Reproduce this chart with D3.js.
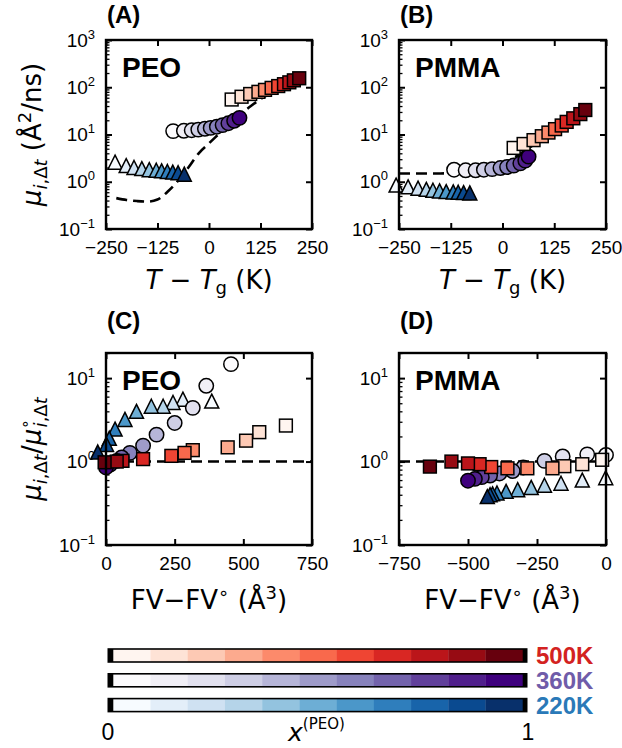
<!DOCTYPE html>
<html>
<head>
<meta charset="utf-8">
<script src="https://cdn.jsdelivr.net/npm/d3@7"></script>
<style>
  body { margin: 0; background: #fff; }
  text { font-family: "Liberation Sans", Arial, Helvetica, sans-serif; }
  .math { font-family: "DejaVu Sans", sans-serif; }
</style>
</head>
<body>
<svg id="fig" width="622" height="748"></svg>
<script>
'use strict';

/* ── Data ─────────────────────────────────────────────── */
const xPEO = [0, 0.1, 0.2, 0.3, 0.4, 0.5, 0.6, 0.7, 0.8, 0.9, 1.0];

// (A) PEO : mobility vs T - Tg
const peoT220  = [-228, -201, -182, -163, -145, -128, -115, -101, -88, -75, -60];
const peoMu220 = [2.6, 2.2, 2.0, 1.9, 1.8, 1.75, 1.7, 1.65, 1.6, 1.55, 1.45];
const peoT360  = [-87, -61, -42, -26, -10, 4, 19, 33, 47, 61, 74];
const peoMu360 = [11.8, 12, 12.3, 12.7, 13.2, 13.8, 14.6, 15.8, 17.3, 19.5, 22.5];
const peoT500  = [55, 79, 100, 120, 136, 152, 168, 182, 195, 206, 219];
const peoMu500 = [55, 63, 72, 80, 88, 97, 106, 116, 127, 140, 155];
const peoRefT  = [-225, -200, -175, -150, -125, -100, -75, -50, -25, 0, 25, 50, 75, 100, 125, 150, 175, 200, 225];
const peoRefMu = [0.45, 0.41, 0.39, 0.38, 0.42, 0.62, 1.05, 2.0, 4.0, 6.5, 10.5, 17, 26, 39, 56, 75, 93, 115, 144];

// (B) PMMA : mobility vs T - Tg
const pmmaT220  = [-257, -228, -204, -184, -168, -152, -136, -119, -107, -94, -79];
const pmmaMu220 = [0.85, 0.78, 0.73, 0.69, 0.66, 0.64, 0.62, 0.61, 0.6, 0.59, 0.58];
const pmmaT360  = [-117, -89, -65, -45, -25, -5, 11, 27, 43, 55, 63];
const pmmaMu360 = [1.8, 1.75, 1.75, 1.8, 1.85, 1.95, 2.05, 2.2, 2.45, 2.8, 3.4];
const pmmaT500  = [27, 51, 75, 95, 111, 127, 143, 155, 171, 188, 200];
const pmmaMu500 = [5.2, 6.3, 7.6, 9.2, 11, 13, 15.5, 18.5, 22, 27, 33];
const pmmaRefT  = [-250, -200, -150, -125, -100, -50, 0, 25, 50, 75, 100, 125, 150, 175, 200];
const pmmaRefMu = [1.5, 1.5, 1.5, 1.52, 1.6, 1.8, 2.4, 3.1, 4.3, 6, 8.5, 12, 16.5, 23, 32];

// (C) PEO : normalised mobility vs FV - FV°
const peoFV220  = [385, 280, 244, 208, 165, 111, 69, 33, 12, 2, -30];
const peoR220   = [5.3, 5.6, 5.1, 4.6, 4.6, 4.0, 3.2, 2.45, 1.9, 1.6, 1.3];
const peoFV360  = [455, 365, 316, 250, 184, 135, 87, 57, 39, 15, 0];
const peoR360   = [14.7, 8.1, 4.4, 2.9, 2.1, 1.55, 1.27, 1.12, 1.02, 0.92, 0.85];
const peoFV500  = [655, 558, 510, 443, 316, 286, 238, 135, 60, 39, -5];
const peoR500   = [2.7, 2.25, 1.78, 1.48, 1.37, 1.27, 1.17, 1.07, 1.02, 1.0, 0.98];

// (D) PMMA : normalised mobility vs FV - FV°
const pmmaFV220 = [-1, -86, -163, -223, -271, -320, -362, -395, -411, -420, -430];
const pmmaR220  = [0.64, 0.6, 0.55, 0.52, 0.49, 0.46, 0.44, 0.42, 0.41, 0.4, 0.38];
const pmmaFV360 = [0, -68, -157, -223, -300, -338, -386, -420, -450, -475, -500];
const pmmaR360  = [1.2, 1.22, 1.15, 1.02, 0.85, 0.77, 0.72, 0.68, 0.65, 0.62, 0.59];
const pmmaFV500 = [-14, -86, -151, -194, -285, -357, -416, -458, -500, -560, -638];
const pmmaR500  = [1.05, 0.93, 0.88, 0.83, 0.83, 0.83, 0.86, 0.93, 0.95, 1.0, 0.87];

const unityFV_C = [0, 750];
const unityFV_D = [-750, 0];
const unityR    = [1, 1];

// Tick values
const yTicksMu    = [0.1, 1, 10, 100, 1000];
const yTicksRatio = [0.1, 1, 10];
const xTicksT     = [-250, -125, 0, 125, 250];
const xTicksC     = [0, 250, 500, 750];
const xTicksD     = [-750, -500, -250, 0];

// Colour bars
const barTemps   = ['500K', '360K', '220K'];
const barSchemes = [d3.interpolateReds, d3.interpolatePurples, d3.interpolateBlues];

/* ── Layout ───────────────────────────────────────────── */
const svg = d3.select('#fig');
const FONT = '"Liberation Sans", Arial, Helvetica, sans-serif';
const COL = [{ l: 106, r: 312 }, { l: 399, r: 606 }];
const ROW = [{ t: 40, b: 229 }, { t: 353, b: 545 }];

function minorLogTicks(lo, hi) {
  const out = [];
  for (let e = Math.floor(Math.log10(lo)); e <= Math.ceil(Math.log10(hi)); e++) {
    for (let m = 2; m <= 9; m++) {
      const v = m * Math.pow(10, e);
      if (v > lo && v <= hi) out.push(v);
    }
  }
  return out;
}

function styleAxis(g) {
  g.select('.domain').remove();
  g.selectAll('.tick line').attr('stroke', '#000').attr('stroke-width', 2);
  g.selectAll('.tick text').attr('fill', '#000').attr('font-size', 19).attr('font-family', FONT);
}

function drawMarker(g, shape, x, y, fill) {
  const common = s => s.attr('fill', fill).attr('stroke', '#000').attr('stroke-width', 1.5);
  if (shape === 'circle') {
    g.append('circle').attr('cx', x).attr('cy', y).attr('r', 7.2).call(common);
  } else if (shape === 'square') {
    g.append('rect').attr('x', x - 6.4).attr('y', y - 6.4).attr('width', 12.8).attr('height', 12.8).call(common);
  } else {
    const a = 7;
    g.append('path').attr('d', `M${x},${y - a}L${x + a},${y + a}L${x - a},${y + a}Z`).call(common);
  }
}

function drawPanel(p) {
  const { l, r } = COL[p.col], { t, b } = ROW[p.row];
  const g = svg.append('g');
  const x = d3.scaleLinear().domain(p.xDomain).range([l, r]);
  const y = d3.scaleLog().domain(p.yDomain).range([b, t]);

  /* ticks */
  const ax = g.append('g').attr('transform', `translate(0,${b})`)
    .call(d3.axisBottom(x).tickValues(p.xTicks).tickSizeInner(-6).tickSizeOuter(0).tickPadding(12)
      .tickFormat(d => d < 0 ? '−' + (-d) : String(d)));
  styleAxis(ax);
  const axT = g.append('g').attr('transform', `translate(0,${t})`)
    .call(d3.axisTop(x).tickValues(p.xTicks).tickSizeInner(-6).tickSizeOuter(0).tickFormat(''));
  styleAxis(axT);

  const ay = g.append('g').attr('transform', `translate(${l},0)`)
    .call(d3.axisLeft(y).tickValues(p.yTicks).tickSizeInner(-6).tickSizeOuter(0).tickPadding(11).tickFormat(() => '10'));
  styleAxis(ay);
  ay.selectAll('.tick text').each(function (d) {
    const e = Math.round(Math.log10(d));
    d3.select(this).append('tspan').attr('dy', -8).attr('font-size', 13)
      .text(e < 0 ? '−' + (-e) : String(e));
  });
  const ayMin = g.append('g').attr('transform', `translate(${l},0)`)
    .call(d3.axisLeft(y).tickValues(minorLogTicks(p.yDomain[0], p.yDomain[1])).tickSizeInner(-3.5).tickSizeOuter(0).tickFormat(''));
  styleAxis(ayMin);
  ayMin.selectAll('.tick line').attr('stroke-width', 1.3);
  const ayR = g.append('g').attr('transform', `translate(${r},0)`)
    .call(d3.axisRight(y).tickValues(p.yTicks).tickSizeInner(-6).tickSizeOuter(0).tickFormat(''));
  styleAxis(ayR);

  /* reference dashed curve */
  const line = d3.line().x(d => x(d[0])).y(d => y(d[1])).curve(d3.curveMonotoneX);
  g.append('path').datum(d3.zip(p.refX, p.refY))
    .attr('d', line).attr('fill', 'none').attr('stroke', '#000')
    .attr('stroke-width', 2.6).attr('stroke-dasharray', '11 6');

  /* markers */
  p.series.forEach(s => {
    const sg = g.append('g');
    s.xs.forEach((xv, i) => drawMarker(sg, s.shape, x(xv), y(s.ys[i]), s.scheme(xPEO[i])));
  });

  /* frame */
  g.append('rect').attr('x', l).attr('y', t).attr('width', r - l).attr('height', b - t)
    .attr('fill', 'none').attr('stroke', '#000').attr('stroke-width', 2.4);

  /* labels */
  g.append('text').attr('x', l + 1).attr('y', t - (p.row === 0 ? 17 : 24))
    .attr('font-size', 24).attr('font-weight', 'bold').text(p.tag);
  g.append('text').attr('x', l + 16).attr('y', t + 37)
    .attr('font-size', 28).attr('font-weight', 'bold').text(p.name);
}

const muSeries = (t220, m220, t360, m360, t500, m500) => [
  { shape: 'triangle', xs: t220, ys: m220, scheme: d3.interpolateBlues },
  { shape: 'circle',   xs: t360, ys: m360, scheme: d3.interpolatePurples },
  { shape: 'square',   xs: t500, ys: m500, scheme: d3.interpolateReds }
];

drawPanel({ col: 0, row: 0, tag: '(A)', name: 'PEO', xDomain: [-250, 250], yDomain: [0.1, 1000],
  xTicks: xTicksT, yTicks: yTicksMu, refX: peoRefT, refY: peoRefMu,
  series: muSeries(peoT220, peoMu220, peoT360, peoMu360, peoT500, peoMu500) });
drawPanel({ col: 1, row: 0, tag: '(B)', name: 'PMMA', xDomain: [-250, 250], yDomain: [0.1, 1000],
  xTicks: xTicksT, yTicks: yTicksMu, refX: pmmaRefT, refY: pmmaRefMu,
  series: muSeries(pmmaT220, pmmaMu220, pmmaT360, pmmaMu360, pmmaT500, pmmaMu500) });
drawPanel({ col: 0, row: 1, tag: '(C)', name: 'PEO', xDomain: [0, 750], yDomain: [0.1, 20],
  xTicks: xTicksC, yTicks: yTicksRatio, refX: unityFV_C, refY: unityR,
  series: muSeries(peoFV220, peoR220, peoFV360, peoR360, peoFV500, peoR500) });
drawPanel({ col: 1, row: 1, tag: '(D)', name: 'PMMA', xDomain: [-750, 0], yDomain: [0.1, 20],
  xTicks: xTicksD, yTicks: yTicksRatio, refX: unityFV_D, refY: unityR,
  series: muSeries(pmmaFV220, pmmaR220, pmmaFV360, pmmaR360, pmmaFV500, pmmaR500) });

/* ── Axis titles ──────────────────────────────────────── */
function xTitleT(cx, yb) {
  const tx = svg.append('text').attr('class', 'math').attr('x', cx).attr('y', yb)
    .attr('text-anchor', 'middle').attr('font-size', 26);
  tx.append('tspan').attr('font-style', 'italic').text('T');
  tx.append('tspan').text(' − ');
  tx.append('tspan').attr('font-style', 'italic').text('T');
  tx.append('tspan').attr('font-size', 18).attr('dy', 5).text('g');
  tx.append('tspan').attr('dy', -5).text(' (K)');
}
xTitleT((COL[0].l + COL[0].r) / 2, 289);
xTitleT((COL[1].l + COL[1].r) / 2, 289);

function xTitleFV(cx, yb) {
  const tx = svg.append('text').attr('class', 'math').attr('x', cx).attr('y', yb)
    .attr('text-anchor', 'middle').attr('font-size', 26);
  tx.append('tspan').text('FV−FV');
  tx.append('tspan').attr('font-size', 18).attr('dy', -10).text('∘');
  tx.append('tspan').attr('dy', 10).text(' (Å');
  tx.append('tspan').attr('font-size', 18).attr('dy', -10).text('3');
  tx.append('tspan').attr('dy', 10).text(')');
}
xTitleFV((COL[0].l + COL[0].r) / 2, 609);
xTitleFV((COL[1].l + COL[1].r) / 2, 609);

function muSub(tx) {
  tx.append('tspan').attr('font-style', 'italic').text('μ');
  tx.append('tspan').attr('font-size', 18).attr('dy', 6).attr('font-style', 'italic').text('i');
  tx.append('tspan').attr('font-size', 18).text(',Δ');
  tx.append('tspan').attr('font-size', 18).attr('font-style', 'italic').text('t');
}

{
  const cy = (ROW[0].t + ROW[0].b) / 2;
  const tx = svg.append('text').attr('class', 'math').attr('transform', `translate(41,${cy}) rotate(-90)`)
    .attr('text-anchor', 'middle').attr('font-size', 26);
  muSub(tx);
  tx.append('tspan').attr('dy', -6).text(' (Å');
  tx.append('tspan').attr('font-size', 18).attr('dy', -10).text('2');
  tx.append('tspan').attr('dy', 10).text('/ns)');
}
{
  const cy = (ROW[1].t + ROW[1].b) / 2;
  const tx = svg.append('text').attr('class', 'math').attr('transform', `translate(41,${cy}) rotate(-90)`)
    .attr('text-anchor', 'middle').attr('font-size', 26);
  muSub(tx);
  tx.append('tspan').attr('dy', -6).text('/');
  tx.append('tspan').attr('font-style', 'italic').text('μ');
  tx.append('tspan').attr('font-size', 15).attr('dy', -11).text('∘');
  tx.append('tspan').attr('font-size', 18).attr('dy', 17).attr('dx', -8).attr('font-style', 'italic').text('i');
  tx.append('tspan').attr('font-size', 18).text(',Δ');
  tx.append('tspan').attr('font-size', 18).attr('font-style', 'italic').text('t');
}

/* ── Colour bars ──────────────────────────────────────── */
const barX = d3.scaleLinear().domain([0, xPEO.length]).range([113.3, 522.7]);
const barY = d3.scaleBand().domain(barTemps).range([649, 712]).paddingInner(0.85 / 1.85);

barTemps.forEach((lab, bi) => {
  const y0 = barY(lab), h = 13;
  const bg = svg.append('g');
  xPEO.forEach((v, i) => {
    bg.append('rect').attr('x', barX(i)).attr('y', y0).attr('width', barX(i + 1) - barX(i) + 0.3).attr('height', h)
      .attr('fill', barSchemes[bi](v));
  });
  bg.append('rect').attr('x', 108.3).attr('y', y0).attr('width', 5).attr('height', h).attr('fill', '#000');
  bg.append('rect').attr('x', 522.7).attr('y', y0).attr('width', 4).attr('height', h).attr('fill', '#000');
  bg.append('rect').attr('x', 108.3).attr('y', y0).attr('width', 418.4).attr('height', h)
    .attr('fill', 'none').attr('stroke', '#000').attr('stroke-width', 1.6);
  bg.append('text').attr('x', 536).attr('y', y0 + h / 2 + 8.5)
    .attr('font-size', 24).attr('font-weight', 'bold').attr('fill', barSchemes[bi](0.72)).text(lab);
});

svg.append('text').attr('x', 108).attr('y', 740).attr('text-anchor', 'middle').attr('font-size', 23).text('0');
svg.append('text').attr('x', 528).attr('y', 740).attr('text-anchor', 'middle').attr('font-size', 23).text('1');
{
  const tx = svg.append('text').attr('class', 'math').attr('x', 288).attr('y', 741).attr('font-size', 25);
  tx.append('tspan').attr('font-style', 'italic').text('x');
  tx.append('tspan').attr('font-size', 15).attr('dy', -12).text('(PEO)');
}
</script>
</body>
</html>
